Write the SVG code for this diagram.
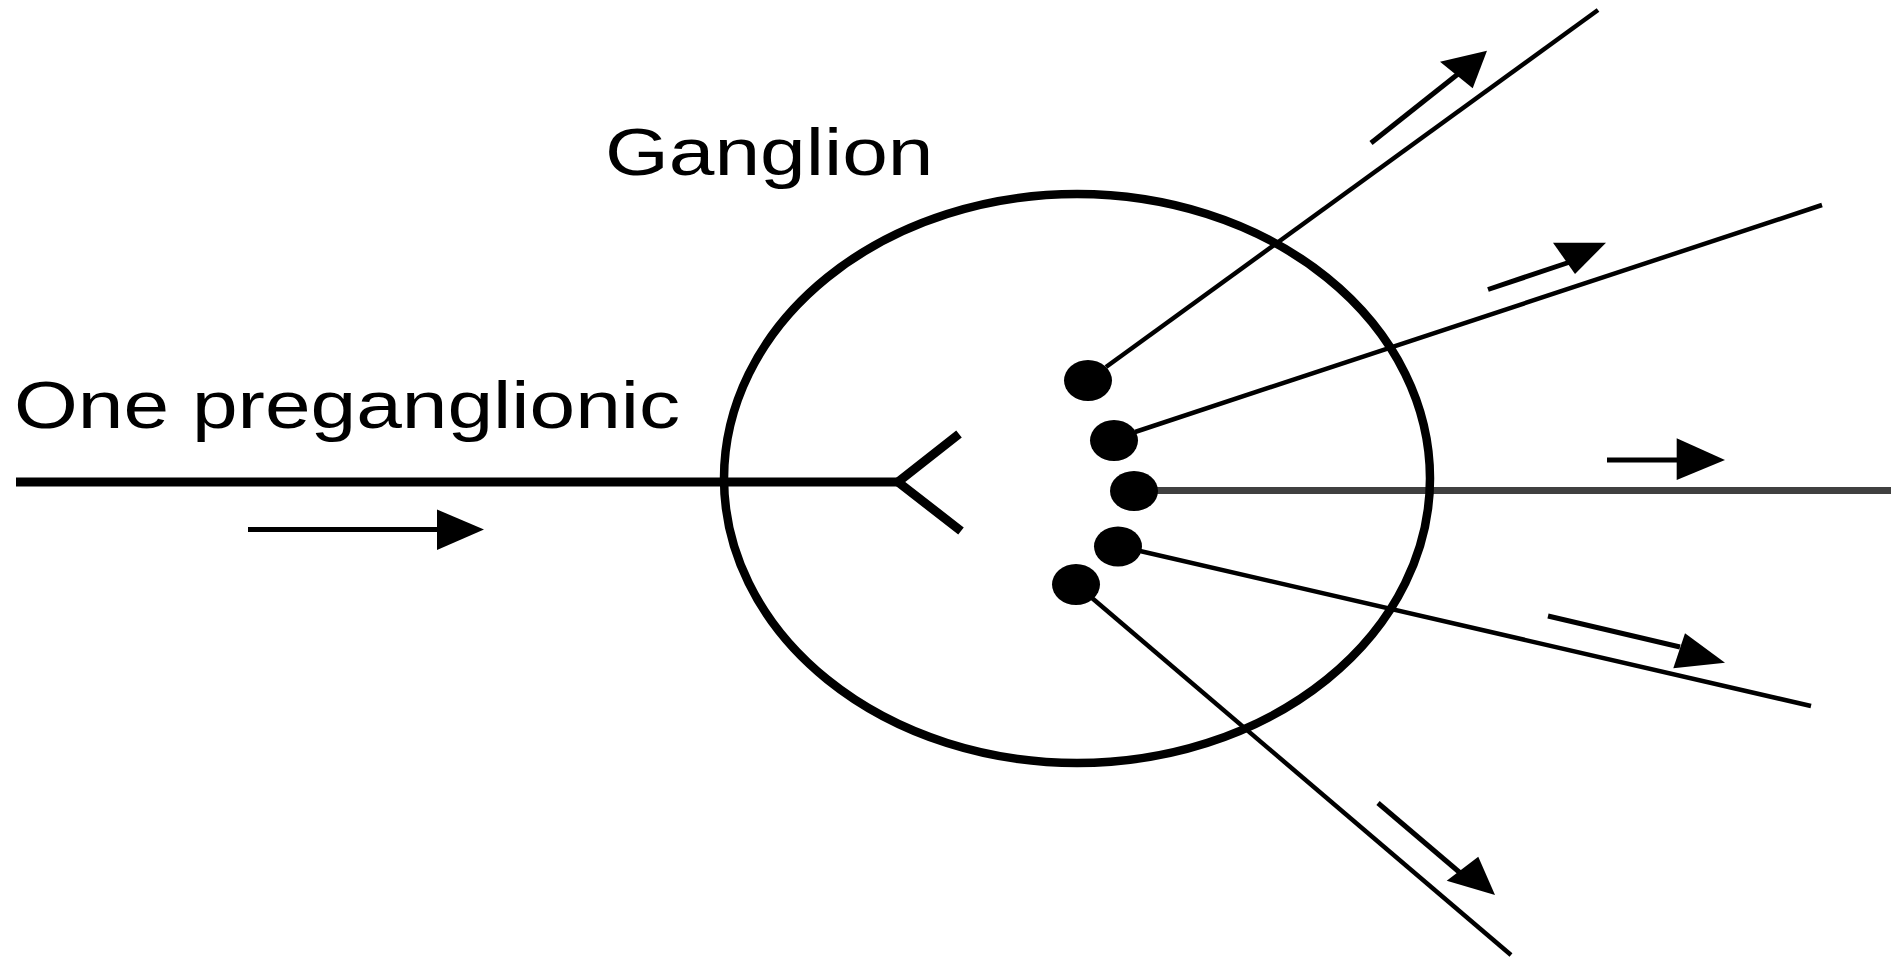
<svg xmlns="http://www.w3.org/2000/svg" width="1891" height="960" viewBox="0 0 1891 960">
<style>
.bg{fill:#ffffff}
.lbl{font-family:"Liberation Sans",Arial,Helvetica,sans-serif;font-size:67px;fill:#000}
.gang{fill:none;stroke:#000;stroke-width:8.5}
.pre{fill:none;stroke:#000;stroke-width:9;stroke-linecap:butt;stroke-linejoin:miter}
.post{fill:none;stroke:#000;stroke-width:4.5}
.postgray{fill:none;stroke:#404040;stroke-width:7}
.soma{fill:#000}
.shaft{fill:none;stroke:#000;stroke-width:5}
.head{fill:#000;stroke:none}
</style>
<rect class="bg" x="0" y="0" width="1891" height="960"/>

<g id="connectors">
  <line class="post" x1="1106" y1="367" x2="1598" y2="10"/>
  <line class="post" x1="1135" y1="432" x2="1822" y2="205"/>
  <line class="postgray" x1="1150" y1="490.5" x2="1891" y2="490.5"/>
  <line class="post" x1="1140" y1="551" x2="1811" y2="706"/>
  <line class="post" x1="1092" y1="598" x2="1511" y2="955"/>

  <line class="shaft" x1="248" y1="529.5" x2="440" y2="529.5"/>
  <polygon class="head" points="437,509.5 484,529.5 437,550"/>

  <line class="shaft" x1="1371" y1="143" x2="1458" y2="74"/>
  <polygon class="head" points="1440,61.7 1487,50.7 1472.7,88.3"/>

  <line class="shaft" x1="1488" y1="289.5" x2="1570" y2="262"/>
  <polygon class="head" points="1553,242.7 1606,242.7 1575,274"/>

  <line class="shaft" x1="1607" y1="460" x2="1680" y2="460"/>
  <polygon class="head" points="1676.7,438.3 1725,460 1676.7,480"/>

  <line class="shaft" x1="1548" y1="616" x2="1680" y2="647"/>
  <polygon class="head" points="1685,633.3 1725,662.7 1673.3,668.3"/>

  <line class="shaft" x1="1378" y1="803" x2="1465" y2="877"/>
  <polygon class="head" points="1478.3,856.7 1495,895 1446.7,880.7"/>
</g>

<g id="ganglion">
  <ellipse class="gang" cx="1077" cy="478.5" rx="353" ry="284.5"/>
  <text class="lbl" transform="translate(605,175) scale(1.225,1)">Ganglion</text>
</g>

<g id="preganglionic">
  <text class="lbl" transform="translate(14,428) scale(1.225,1)">One preganglionic</text>
  <polyline class="pre" points="16,482 898,482"/>
  <polyline class="pre" points="959,434 898,482 961,531"/>
</g>

<g id="neuron-1"><ellipse class="soma" cx="1088" cy="380.5" rx="24" ry="20.5"/></g>
<g id="neuron-2"><ellipse class="soma" cx="1114" cy="440.5" rx="24" ry="20.5"/></g>
<g id="neuron-3"><ellipse class="soma" cx="1134" cy="491" rx="24" ry="20"/></g>
<g id="neuron-4"><ellipse class="soma" cx="1118" cy="546.5" rx="24" ry="20"/></g>
<g id="neuron-5"><ellipse class="soma" cx="1076" cy="584.5" rx="24" ry="20.5"/></g>
</svg>
